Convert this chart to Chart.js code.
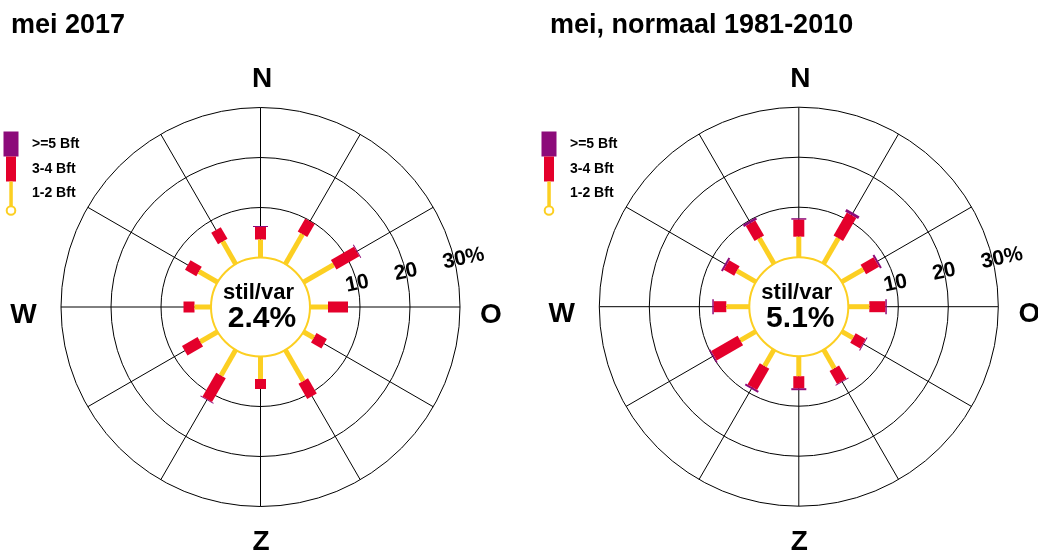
<!DOCTYPE html>
<html lang="nl">
<head>
<meta charset="utf-8">
<title>Windroos mei 2017</title>
<script src="https://cdn.jsdelivr.net/npm/chart.js@4.4.1/dist/chart.umd.min.js"></script>
<style>
  html, body { margin: 0; padding: 0; background: #fff; }
  body { width: 1038px; height: 554px; position: relative; overflow: hidden;
         font-family: 'Liberation Sans', Arial, Helvetica, sans-serif; }
  canvas { position: absolute; top: 0; }
  .title { position: absolute; top: 11px; font-weight: bold; font-size: 27px; line-height: 27px; color: #000; }
</style>
</head>
<body>
<canvas id="roseMay" width="520" height="554" style="left:0"></canvas>
<canvas id="roseNormal" width="500" height="554" style="left:538px"></canvas>
<div class="title" style="left:11px">mei 2017</div>
<div class="title" style="left:550px">mei, normaal 1981-2010</div>
<script>
// richtingen in graden vanaf noord, met de klok mee
const directions = [0, 30, 60, 90, 120, 150, 180, 210, 240, 270, 300, 330];
const compassLabels = ['N', 'O', 'Z', 'W'];
const ringTicks = [10, 20, 30];
const classLabels = ['>=5 Bft', '3-4 Bft', '1-2 Bft'];

// mei 2017 (percentages per richting)
const may2017Calm = 2.4;
const may2017Bft12 = [3.6, 6.9, 7.0, 3.6, 2.4, 7.2, 4.5, 5.9, 4.0, 3.3, 4.3, 5.2];
const may2017Bft34 = [2.5, 3.0, 5.3, 4.0, 2.4, 3.5, 2.0, 5.5, 3.6, 2.2, 2.6, 2.7];
const may2017Bft5  = [0.2, 0, 0.2, 0, 0, 0, 0, 0.2, 0, 0, 0, 0];

// mei, normaal 1981-2010
const normalCalm = 5.1;
const normalBft12 = [4.1, 5.9, 5.0, 4.2, 2.6, 4.3, 4.0, 3.8, 3.6, 4.6, 4.4, 5.9];
const normalBft34 = [3.4, 5.3, 3.0, 3.2, 2.3, 3.0, 2.4, 4.9, 6.1, 2.5, 2.4, 3.5];
const normalBft5  = [0.3, 0.6, 0.4, 0.3, 0.2, 0.2, 0.4, 0.4, 0.3, 0.3, 0.4, 0.5];

const INNER = 9.9;   // straal van de stil/var cirkel, in %-eenheden
const PX = 5;        // pixels per procent
const YELLOW = '#FCCF22', RED = '#E4002B', PURPLE = '#8C0B7A';
const FONT = "'Liberation Sans', Arial, Helvetica, sans-serif";

// een staafje per richting: van base tot base + waarde
function segments(base, values) {
    const out = [];
    directions.forEach((deg, i) => {
        if (!values[i]) return;
        const a = deg * Math.PI / 180;
        const r0 = INNER + base[i];
        const r1 = r0 + values[i];
        out.push([
            {x: r0 * Math.sin(a), y: r0 * Math.cos(a)},
            {x: r1 * Math.sin(a), y: r1 * Math.cos(a)}
        ]);
    });
    return out;
}

const roseDecor = {
    id: 'roseDecor',
    beforeDatasetsDraw(chart) {
        const {ctx, scales: {x, y}} = chart;
        const cx = x.getPixelForValue(0), cy = y.getPixelForValue(0);
        const u = x.getPixelForValue(1) - cx;
        ctx.save();
        ctx.strokeStyle = '#000';
        ctx.lineWidth = 1;
        ringTicks.forEach(t => {
            ctx.beginPath();
            ctx.arc(cx, cy, (INNER + t) * u, 0, Math.PI * 2);
            ctx.stroke();
        });
        directions.forEach(deg => {
            const a = deg * Math.PI / 180;
            ctx.beginPath();
            ctx.moveTo(cx + INNER * u * Math.sin(a), cy - INNER * u * Math.cos(a));
            ctx.lineTo(cx + (INNER + 30) * u * Math.sin(a), cy - (INNER + 30) * u * Math.cos(a));
            ctx.stroke();
        });
        ctx.strokeStyle = YELLOW;
        ctx.lineWidth = 2;
        ctx.beginPath();
        ctx.arc(cx, cy, INNER * u, 0, Math.PI * 2);
        ctx.stroke();
        ctx.restore();
    },
    afterDatasetsDraw(chart, args, opts) {
        const {ctx, scales: {x, y}} = chart;
        const cx = x.getPixelForValue(0), cy = y.getPixelForValue(0);
        const u = x.getPixelForValue(1) - cx;
        ctx.save();
        ctx.fillStyle = '#000';
        ctx.textBaseline = 'alphabetic';
        ctx.textAlign = 'center';

        // stil/var in het midden
        ctx.font = 'bold 22px ' + FONT;
        ctx.fillText('stil/var', cx - 2, cy - 8);
        ctx.font = 'bold 30px ' + FONT;
        ctx.fillText(opts.calm.toFixed(1) + '%', cx + 1.5, cy + 20);

        // windrichtingen
        ctx.font = 'bold 28px ' + FONT;
        ctx.fillText(compassLabels[0], cx + 1.5, cy - 220);
        ctx.fillText(compassLabels[1], cx + 230.5, cy + 15.5);
        ctx.fillText(compassLabels[2], cx + 0.5, cy + 243);
        ctx.fillText(compassLabels[3], cx - 237, cy + 15.5);

        // ringlabels
        ctx.font = 'bold 21px ' + FONT;
        ctx.textBaseline = 'middle';
        const la = 13.5 * Math.PI / 180;
        ringTicks.forEach((t, i) => {
            const r = (INNER + t) * u;
            ctx.save();
            ctx.translate(cx + r * Math.cos(la), cy - r * Math.sin(la));
            ctx.rotate(-12 * Math.PI / 180);
            ctx.textAlign = 'center';
            ctx.fillText(String(t), 0, 0);
            if (i === ringTicks.length - 1) {
                ctx.textAlign = 'left';
                ctx.fillText('%', ctx.measureText(String(t)).width / 2, 0);
            }
            ctx.restore();
        });

        // legenda
        ctx.fillStyle = PURPLE;
        ctx.fillRect(3.5, 131.5, 15, 25);
        ctx.fillStyle = RED;
        ctx.fillRect(6, 156.5, 10, 25);
        ctx.fillStyle = YELLOW;
        ctx.fillRect(9.3, 181.5, 3.5, 24.5);
        ctx.strokeStyle = YELLOW;
        ctx.lineWidth = 2;
        ctx.beginPath();
        ctx.arc(11, 210.5, 4.3, 0, Math.PI * 2);
        ctx.fillStyle = '#fff';
        ctx.fill();
        ctx.stroke();
        ctx.fillStyle = '#000';
        ctx.font = 'bold 14px ' + FONT;
        ctx.textAlign = 'left';
        ctx.textBaseline = 'alphabetic';
        ctx.fillText(classLabels[0], 32, 148);
        ctx.fillText(classLabels[1], 32, 172.5);
        ctx.fillText(classLabels[2], 32, 197);
        ctx.restore();
    }
};

function makeRose(id, cx, cy, calm, bft12, bft34, bft5) {
    const canvas = document.getElementById(id);
    const w = canvas.width, h = canvas.height;
    const base34 = bft12;
    const base5 = bft12.map((v, i) => v + bft34[i]);
    // borderDash zet het 'fast path' van Chart.js uit; dat maakt van korte schuine staafjes driehoekjes
    const lineSet = (data, color, width) => ({
        data: data,
        showLine: true,
        borderColor: color,
        borderWidth: width,
        borderCapStyle: 'butt',
        borderDash: [10000, 1],
        pointRadius: 0,
        pointHoverRadius: 0
    });
    const datasets = [];
    segments(directions.map(() => 0), bft12).forEach(s => datasets.push(lineSet(s, YELLOW, 5)));
    segments(base34, bft34).forEach(s => datasets.push(lineSet(s, RED, 11)));
    segments(base5, bft5).forEach(s => datasets.push(lineSet(s, PURPLE, 15)));
    return new Chart(canvas, {
        type: 'scatter',
        data: { datasets: datasets },
        options: {
            responsive: false,
            animation: false,
            events: [],
            layout: { padding: 0 },
            plugins: {
                legend: { display: false },
                tooltip: { enabled: false },
                roseDecor: { calm: calm }
            },
            scales: {
                x: { type: 'linear', display: false, min: -cx / PX, max: (w - cx) / PX },
                y: { type: 'linear', display: false, min: -(h - cy) / PX, max: cy / PX }
            }
        },
        plugins: [roseDecor]
    });
}

makeRose('roseMay', 260.5, 307, may2017Calm, may2017Bft12, may2017Bft34, may2017Bft5);
makeRose('roseNormal', 260.8, 306.7, normalCalm, normalBft12, normalBft34, normalBft5);
</script>
</body>
</html>
